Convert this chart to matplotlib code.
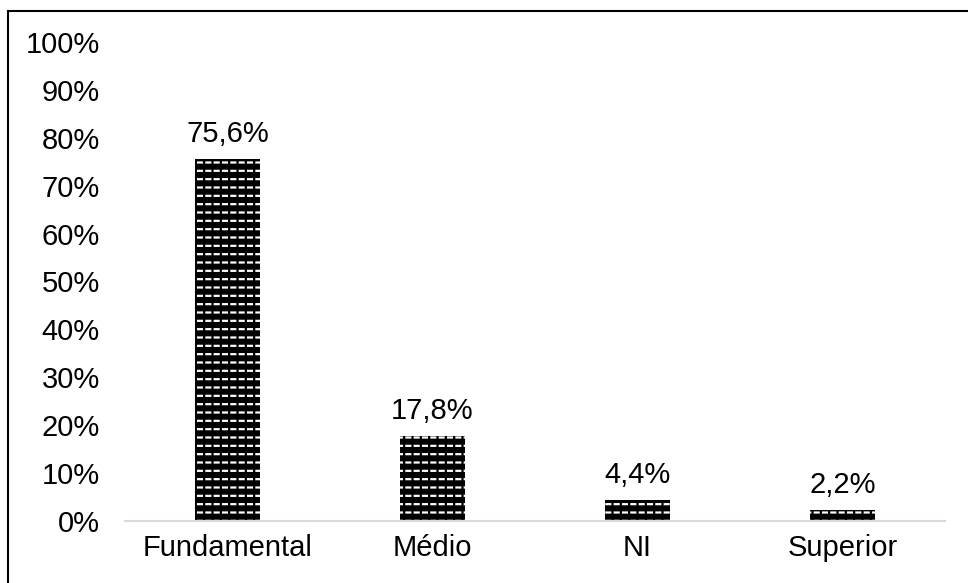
import matplotlib.pyplot as plt
from matplotlib.patches import Rectangle

plt.rcParams['font.family'] = ['Liberation Sans', 'DejaVu Sans']
plt.rcParams['hatch.linewidth'] = 1.6

categories = ['Fundamental', 'Médio', 'NI', 'Superior']
values = [75.6, 17.8, 4.4, 2.2]
yticks = list(range(0, 101, 10))

fig = plt.figure(figsize=(9.68, 5.83), dpi=100)
ax = fig.add_axes([125 / 968, 1 - 521 / 583, 820 / 968, 479 / 583])

x = range(len(categories))
# black bars with white horizontal lines, cut into dashes by black verticals
plt.rcParams['hatch.color'] = 'white'
bars = ax.bar(x, values, width=0.32, color='black', hatch='--', linewidth=0)
plt.rcParams['hatch.color'] = 'black'
ax.bar(x, values, width=0.32, facecolor='none', edgecolor='black', hatch='||', linewidth=0)

for b, v in zip(bars, values):
    ax.annotate(f'{v:.1f}%'.replace('.', ','), (b.get_x() + b.get_width() / 2, v),
                xytext=(0, 8), textcoords='offset points',
                ha='center', va='bottom', fontsize=21)

ax.set_xlim(-0.5, 3.5)
ax.set_ylim(0, 100)
ax.set_yticks(yticks)
ax.set_yticklabels([f'{t}%' for t in yticks])
ax.set_xticks(list(x))
ax.set_xticklabels(categories)
ax.tick_params(axis='both', length=0, labelsize=21)
ax.tick_params(axis='y', pad=18)
ax.tick_params(axis='x', pad=9)

for s in ['top', 'right', 'left']:
    ax.spines[s].set_visible(False)
ax.spines['bottom'].set_color('#d9d9d9')
ax.spines['bottom'].set_linewidth(1.5)

# outer frame, only left and top edges visible
fig.patches.append(Rectangle((8 / 968, -0.1), 1.2, 1 - 11 / 583 + 0.1,
                             transform=fig.transFigure, fill=False,
                             edgecolor='black', linewidth=1.5))

fig.savefig('out.png', dpi=100)
